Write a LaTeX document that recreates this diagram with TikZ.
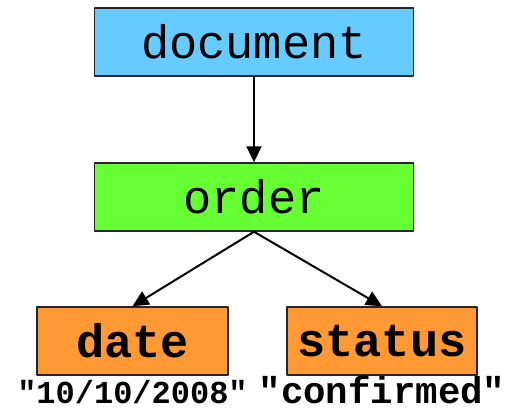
\documentclass[tikz,border=0pt]{standalone}
\usepackage{fontspec}
\setmonofont{Liberation Mono}
\usepackage{tikz}
\usetikzlibrary{arrows,arrows.meta}

\definecolor{docblue}{HTML}{66CCFF}
\definecolor{ordergreen}{HTML}{66FF33}
\definecolor{leaforange}{HTML}{FF9933}

\begin{document}
\begin{tikzpicture}[line cap=round,line join=round,>={Triangle[length=16pt,width=15pt]},x=1pt,y=-1pt]
\useasboundingbox (0,0) rectangle (506,413);
\tikzset{elembox/.style={draw=black!85, line width=1.5pt, inner sep=0pt,
  minimum height=68pt, font=\ttfamily\fontsize{47}{50}\selectfont}}
\tikzset{leafbox/.style={elembox, fill=leaforange, font=\ttfamily\bfseries\fontsize{47}{50}\selectfont}}
% element nodes
\node [elembox, fill=docblue, minimum width=319pt] (document) at (254,42) {document};
\node [elembox, fill=ordergreen, minimum width=319pt] (order) at (254,197) {order};
\node [leafbox, minimum width=191pt] (date) at (132.5,341) {date};
\node [leafbox, minimum width=190pt] (status) at (382,341) {status};
% text values
\node [anchor=base, font=\ttfamily\bfseries\fontsize{32}{34}\selectfont] (datetext) at (132.5,403) {"10/10/2008"};
\node [anchor=base, font=\ttfamily\bfseries\fontsize{37.4}{39}\selectfont] (statustext) at (382,403) {"confirmed"};
% edges
\draw [->, line width=2pt] (document) -- (order);
\draw [->, line width=2pt] (order.south) -- (date.north);
\draw [->, line width=2pt] (order.south) -- (status.north);
\end{tikzpicture}
\end{document}
